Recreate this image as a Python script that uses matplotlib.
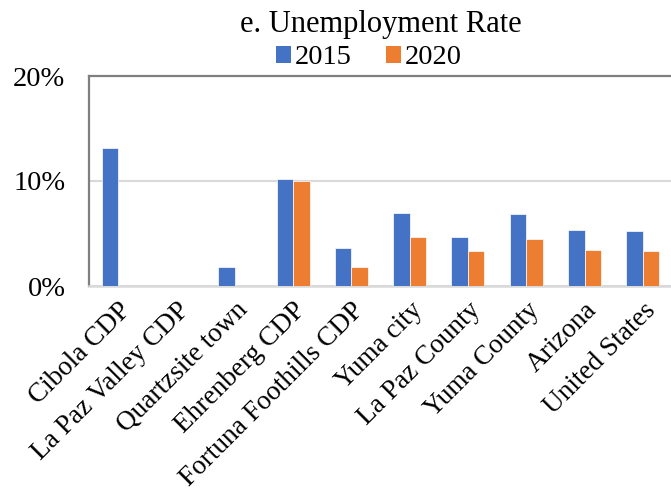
import matplotlib
matplotlib.use("Agg")
import matplotlib.pyplot as plt
import numpy as np
from matplotlib.patches import Patch

plt.rcParams['font.family'] = ['Liberation Serif', 'DejaVu Serif']

places = ["Cibola CDP", "La Paz Valley CDP", "Quartzsite town", "Ehrenberg CDP",
          "Fortuna Foothills CDP", "Yuma city", "La Paz County", "Yuma County",
          "Arizona", "United States"]
rate_2015 = [13.1, 0.0, 1.8, 10.2, 3.6, 7.0, 4.7, 6.9, 5.3, 5.2]
rate_2020 = [0.0, 0.0, 0.0, 10.0, 1.8, 4.7, 3.3, 4.5, 3.4, 3.3]
y_ticks = [0, 10, 20]
series_names = ["2015", "2020"]

blue = "#4472C4"
orange = "#ED7D31"
fs = 20.5

W, H = 671, 497
fig = plt.figure(figsize=(W / 100, H / 100), dpi=100)
ax = fig.add_axes([89 / W, 1 - 286 / H, 583 / W, 210 / H])

x = np.arange(len(places))
bw = 0.283
ax.bar(x - bw / 2, rate_2015, bw, color=blue, edgecolor="#ffffff", linewidth=0.5, zorder=3)
ax.bar(x + bw / 2, rate_2020, bw, color=orange, edgecolor="#ffffff", linewidth=0.5, zorder=3)

ax.set_xlim(-0.5, len(places) - 0.5)
ax.set_ylim(0, 20)
ax.set_yticks(y_ticks)
ax.set_yticklabels([f"{v}%" for v in y_ticks], fontsize=fs)
ax.tick_params(axis="y", length=0, pad=17)
ax.tick_params(axis="x", length=0, pad=8.5)
ax.set_xticks(x)
ax.set_xticklabels(places, fontsize=19.6, rotation=45, ha="right", va="top",
                   rotation_mode="anchor")

ax.yaxis.grid(True, color="#D9D9D9", linewidth=1.5, zorder=0)
ax.set_axisbelow(True)
for side in ("left", "top"):
    ax.spines[side].set_color("#7F7F7F")
    ax.spines[side].set_linewidth(1.6)
ax.spines["bottom"].set_color("#D9D9D9")
ax.spines["bottom"].set_linewidth(1.8)
ax.spines["right"].set_visible(False)

fig.text(381 / W, 1 - 32.3 / H, "e. Unemployment Rate", ha="center", va="baseline",
         fontsize=22)

handles = [Patch(facecolor=blue, edgecolor="none"), Patch(facecolor=orange, edgecolor="none")]
fig.legend(handles, series_names, loc="center", bbox_to_anchor=(369 / W, 1 - 58 / H),
           ncol=2, frameon=False, fontsize=fs, handlelength=0.52, handleheight=0.5,
           handletextpad=0.15, columnspacing=1.2, borderpad=0, borderaxespad=0)

fig.savefig("out.png", dpi=100)
